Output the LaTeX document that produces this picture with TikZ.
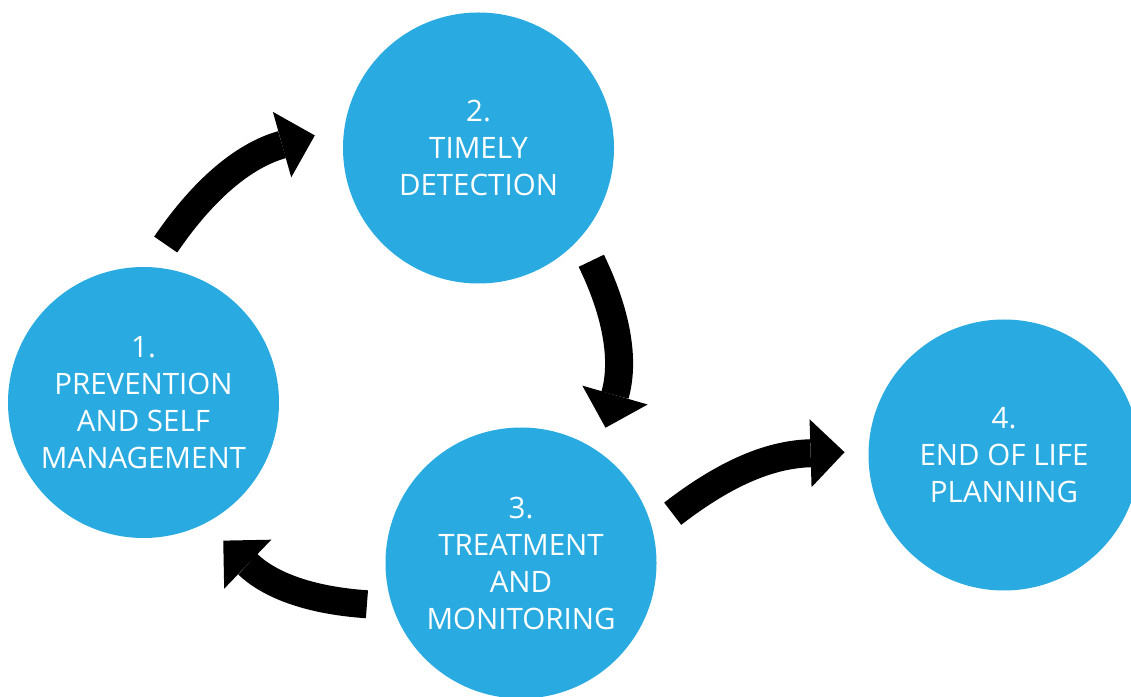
\documentclass[tikz,border=0pt]{standalone}
\usepackage{fontspec}
\setmainfont{Open Sans}
\usetikzlibrary{arrows.meta}
\definecolor{stageblue}{RGB}{41,170,225}
\tikzset{
    stage/.style={circle, fill=stageblue, text=white, minimum size=271pt, inner sep=0pt, outer sep=24pt, align=center, font=\fontsize{29.5}{37}\selectfont},
    flow/.style={line width=28pt, -{Triangle[width=68pt,length=34pt,line width=0pt]}}
}
\begin{document}
    \begin{tikzpicture}[x=1pt,y=1pt]
        \useasboundingbox (0,0) rectangle (1131,696);
        \clip (0,0) rectangle (1131,696);

        \node[stage] (prevention) at (143.5,293.5) {1.\\PREVENTION\\AND SELF\\MANAGEMENT};
        \node[stage] (detection) at (478.5,548) {2.\\TIMELY\\DETECTION};
        \node[stage] (treatment) at (521,133) {3.\\TREATMENT\\AND\\MONITORING};
        \node[stage] (planning) at (1004,241) {4.\\END OF LIFE\\PLANNING};

        \draw[flow,shorten >=5pt] (prevention.82) to[bend left=20] (detection.175);
        \draw[flow] (detection.-45) to[bend left=21] (treatment.58);
        \draw[flow] (treatment.195) to[bend left=20] (prevention.-60);
        \draw[flow] (treatment.18) to[bend left=18] (planning.179);

    \end{tikzpicture}
\end{document}
